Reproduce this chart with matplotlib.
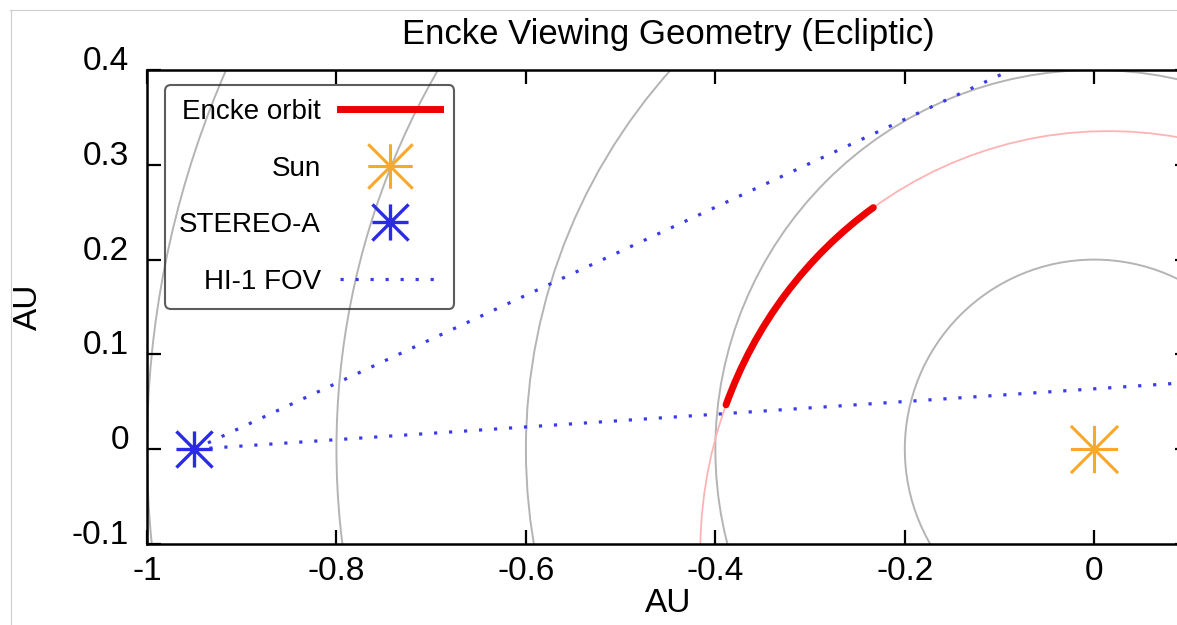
import matplotlib.pyplot as plt
from matplotlib.patches import Circle, Ellipse, Arc
from matplotlib.path import Path
from matplotlib.lines import Line2D
from matplotlib.transforms import ScaledTranslation

plt.rcParams['font.family'] = ['Liberation Sans', 'DejaVu Sans']

# reference circles around the Sun (AU)
ring_radii = [0.2, 0.4, 0.6, 0.8, 1.0]

sun_xy = [0.0, 0.0]
stereo_xy = [-0.95, 0.0]

# HI-1 field of view edges, drawn out from STEREO-A
fov_inner_x = [-0.95, 0.10]
fov_inner_y = [0.0, 0.0704]
fov_outer_x = [-0.95, -0.088]
fov_outer_y = [0.0, 0.40]

# Encke orbit projected on the ecliptic
encke_center = (0.020, -0.115)
encke_width = 0.902
encke_height = 0.871
encke_tilt = 100.0
# stretch of the orbit seen by HI-1 (angles along the ellipse)
seen_from = 24.4
seen_to = 58.4

xticks = [-1, -0.8, -0.6, -0.4, -0.2, 0]
xtick_labels = ['-1', '-0.8', '-0.6', '-0.4', '-0.2', '0']
yticks = [-0.1, 0, 0.1, 0.2, 0.3, 0.4]
ytick_labels = ['-0.1', '0', '0.1', '0.2', '0.3', '0.4']

gray = '#b4b4b4'
pink = '#ffb4b4'
red = '#ee0000'
orange = '#f8a82a'
blue = '#2b2be6'
dots = '#3a3ae8'
dotted = (0, (1, 3.7))

# gnuplot style asterisk: a plus and a cross on top of each other
star = Path([(-1, 0), (1, 0), (0, -1), (0, 1), (-1, -1), (1, 1), (-1, 1), (1, -1)],
            [Path.MOVETO, Path.LINETO] * 4)

fig = plt.figure(figsize=(11.77, 6.25), dpi=100)
ax = fig.add_axes([147 / 1177, 81 / 625, 1042 / 1177, 474 / 625])

for r in ring_radii:
    ax.add_patch(Circle(sun_xy, r, fill=False, edgecolor=gray, lw=1.4))

ax.add_patch(Ellipse(encke_center, encke_width, encke_height, angle=encke_tilt,
                     fill=False, edgecolor=pink, lw=1.3))

ax.plot(fov_inner_x, fov_inner_y, color=dots, lw=2.3, linestyle=dotted)
ax.plot(fov_outer_x, fov_outer_y, color=dots, lw=2.3, linestyle=dotted)

ax.add_patch(Arc(encke_center, encke_width, encke_height, angle=encke_tilt,
                 theta1=seen_from, theta2=seen_to, edgecolor=red, lw=5,
                 capstyle='round', zorder=3))

ax.plot(sun_xy[0], sun_xy[1], marker=star, ms=34, mec=orange, mfc='none', mew=2.2,
        linestyle='none', zorder=4)
ax.plot(stereo_xy[0], stereo_xy[1], marker=star, ms=26, mec=blue, mfc='none', mew=2.4,
        linestyle='none', zorder=4)

ax.set_xlim(-1, 0.1)
ax.set_ylim(-0.1, 0.4)
ax.set_xticks(xticks)
ax.set_xticklabels(xtick_labels)
ax.set_yticks(yticks)
ax.set_yticklabels(ytick_labels)
ax.tick_params(direction='in', top=True, right=True, length=10, width=1.6,
               labelsize=24)
ax.tick_params(axis='x', pad=9)
ax.tick_params(axis='y', pad=13)
for lab in ax.get_yticklabels():
    lab.set_transform(lab.get_transform() + ScaledTranslation(0, 0.12, fig.dpi_scale_trans))
for sp in ax.spines.values():
    sp.set_linewidth(1.8)

ax.set_xlabel('AU', fontsize=24)
ax.set_ylabel('AU', fontsize=24)
ax.xaxis.set_label_coords(0.5, -0.093)
ax.yaxis.set_label_coords(-0.099, 0.5)

fig.text(668 / 1177, 1 - 44 / 625, 'Encke Viewing Geometry (Ecliptic)',
         ha='center', va='baseline', fontsize=25)

handles = [
    Line2D([], [], color=red, lw=5),
    Line2D([], [], marker=star, ms=32, mec=orange, mfc='none', mew=2.2, linestyle='none'),
    Line2D([], [], marker=star, ms=26, mec=blue, mfc='none', mew=2.4, linestyle='none'),
    Line2D([], [], color=dots, lw=2.3, linestyle=dotted),
]
labels = ['Encke orbit', 'Sun', 'STEREO-A', 'HI-1 FOV']
leg = ax.legend(handles, labels, loc='upper left', bbox_to_anchor=(0.0173, 0.968),
                borderaxespad=0, markerfirst=False, fontsize=20, handlelength=3.6,
                handletextpad=0.7, labelspacing=1.1, borderpad=0.5,
                fancybox=True, facecolor='none', edgecolor='#333333')
leg.get_frame().set_linewidth(1.5)

# thin frame of the original screenshot
fig.add_artist(Line2D([10 / 1177, 1], [1 - 9.5 / 625, 1 - 9.5 / 625], color='#cccccc', lw=0.8))
fig.add_artist(Line2D([10.5 / 1177, 10.5 / 1177], [0, 1 - 9.5 / 625], color='#cccccc', lw=0.8))

fig.savefig('out.png', dpi=100)
